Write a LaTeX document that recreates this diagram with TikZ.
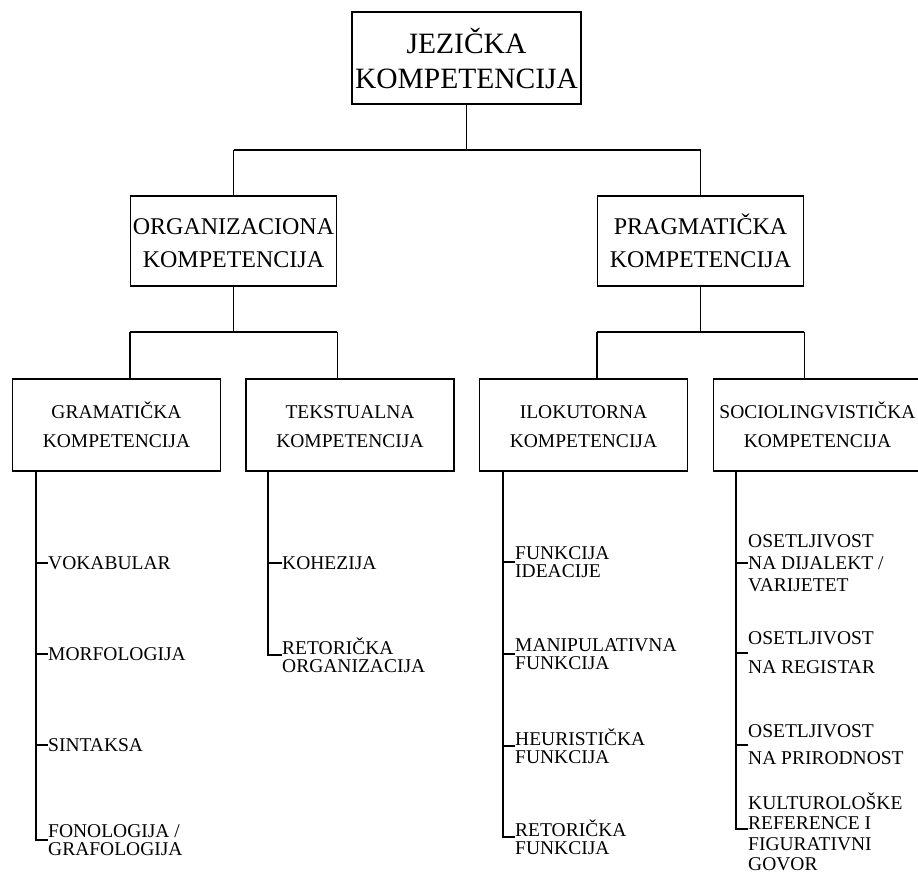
\documentclass[tikz,border=0pt]{standalone}
\usepackage{fontspec}
\setmainfont{Liberation Serif}
\usepackage{tikz}
\usetikzlibrary{positioning,calc}
\tikzset{
  kbox/.style={draw, line width=1.7pt, rectangle, align=center, inner sep=0pt},
  ktop/.style={kbox, minimum width=229pt, minimum height=92pt, font=\fontsize{29.5}{35}\selectfont},
  kmid/.style={kbox, minimum width=206pt, minimum height=90pt, font=\fontsize{24}{33}\selectfont},
  klow/.style={kbox, minimum width=208pt, minimum height=92pt, font=\fontsize{19.5}{29}\selectfont},
  kleaf/.style={anchor=west, align=left, inner sep=0pt, font=\fontsize{19.5}{18}\selectfont},
  ksoc/.style={kleaf, font=\fontsize{19.5}{22}\selectfont},
  kline/.style={line width=1.7pt},
}
\newcommand{\kst}{\vphantom{Č}}

\begin{document}
\begin{tikzpicture}[x=1pt,y=-1pt]
  \useasboundingbox (0,0) rectangle (918,877);

  \node[ktop] (jez) at (466.5,58) {JEZIČKA\\KOMPETENCIJA};

  \node[kmid] (org) at (233.5,241) {\kst ORGANIZACIONA\\KOMPETENCIJA};
  \node[kmid] (prag) at (700.5,241) {PRAGMATIČKA\\KOMPETENCIJA};

  \node[klow] (gram) at (116.5,425) {GRAMATIČKA\\KOMPETENCIJA};
  \node[klow] (tekst) at (350,425) {\kst TEKSTUALNA\\KOMPETENCIJA};
  \node[klow] (ilok) at (583.5,425) {\kst ILOKUTORNA\\KOMPETENCIJA};
  \node[klow] (socio) at (817.5,425) {SOCIOLINGVISTIČKA\\KOMPETENCIJA};

  \coordinate (topbar) at (0,150);
  \coordinate (orgbar) at (0,332);
  \coordinate (pragbar) at (0,332);

  \draw[kline] (jez.south) -- (jez.south |- topbar);
  \draw[kline] (org.north |- topbar) -- (prag.north |- topbar);
  \draw[kline] (org.north |- topbar) -- (org.north);
  \draw[kline] (prag.north |- topbar) -- (prag.north);

  \draw[kline] (org.south) -- (org.south |- orgbar);
  \draw[kline] (org.south west |- orgbar) -- (org.south east |- orgbar);
  \draw[kline] (org.south west |- orgbar) -- (org.south west |- gram.north);
  \draw[kline] (org.south east |- orgbar) -- (org.south east |- tekst.north);

  \draw[kline] (prag.south) -- (prag.south |- pragbar);
  \draw[kline] (prag.south west |- pragbar) -- (prag.south east |- pragbar);
  \draw[kline] (prag.south west |- pragbar) -- (prag.south west |- ilok.north);
  \draw[kline] (prag.south east |- pragbar) -- (prag.south east |- socio.north);

  \coordinate (gs) at ([xshift=24pt]gram.south west);
  \coordinate (ts) at ([xshift=23pt]tekst.south west);
  \coordinate (is) at ([xshift=24pt]ilok.south west);
  \coordinate (ss) at ([xshift=23pt]socio.south west);

  \node[kleaf] (vok) at (48,563) {VOKABULAR};
  \node[kleaf] (mor) at (48,654) {MORFOLOGIJA};
  \node[kleaf] (sin) at (48,745) {SINTAKSA};
  \node[kleaf] (fon) at (48,840) {FONOLOGIJA /\\GRAFOLOGIJA};

  \node[kleaf] (koh) at (282,563) {KOHEZIJA};
  \node[kleaf] (ret) at (282,655) {RETORIČKA\\ORGANIZACIJA};

  \node[kleaf] (fid) at (515,562) {FUNKCIJA\\IDEACIJE};
  \node[kleaf] (man) at (515,654) {MANIPULATIVNA\\FUNKCIJA};
  \node[kleaf] (heu) at (515,746) {HEURISTIČKA\\FUNKCIJA};
  \node[kleaf] (rfu) at (515,837) {RETORIČKA\\FUNKCIJA};

  \node[ksoc] (osd) at (748,563) {OSETLJIVOST\\NA DIJALEKT /\\VARIJETET};
  \node[ksoc] (osr) at (748,653) {OSETLJIVOST\\[7pt]NA REGISTAR};
  \node[ksoc] (osp) at (748,745) {OSETLJIVOST\\[5pt]NA PRIRODNOST};
  \node[ksoc, font=\fontsize{19.5}{20.5}\selectfont] (kul) at (748,832)
    {KULTUROLOŠKE\\REFERENCE I\\FIGURATIVNI\\GOVOR};

  \draw[kline] (gs) |- (fon.west);
  \foreach \n in {vok,mor,sin}
    \draw[kline] (\n.west) -- (\n.west -| gs);
  \draw[kline] (ts) |- (ret.west);
  \draw[kline] (koh.west) -- (koh.west -| ts);
  \draw[kline] (is) |- (rfu.west);
  \foreach \n in {fid,man,heu}
    \draw[kline] (\n.west) -- (\n.west -| is);
  \draw[kline] (ss) |- ([yshift=3pt]kul.west);
  \foreach \n in {osd,osr,osp}
    \draw[kline] (\n.west) -- (\n.west -| ss);
\end{tikzpicture}
\end{document}
